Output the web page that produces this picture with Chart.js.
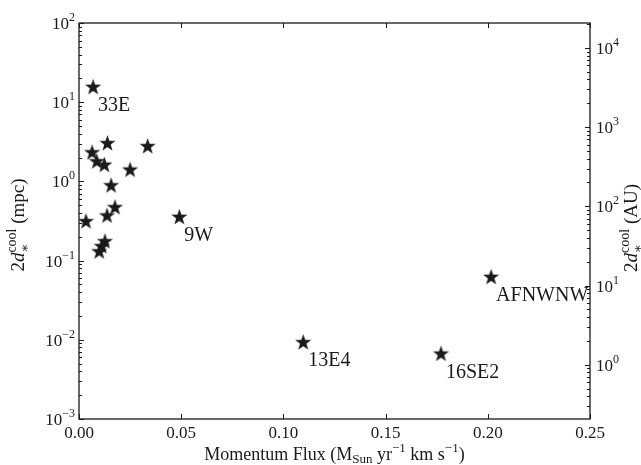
<!DOCTYPE html>
<html>
<head>
<meta charset="utf-8">
<script src="https://cdn.jsdelivr.net/npm/chart.js@4"></script>
<style>
  html, body { margin: 0; padding: 0; background: #fff; }
  #wrap { width: 641px; height: 465px; }
</style>
</head>
<body>
<div id="wrap"><canvas id="chart" width="641" height="465"></canvas></div>
<script>
// momentum flux (Msun/yr km/s) vs. 2 d_cool (mpc)
const momFlux = [0.0069, 0.0139, 0.0336, 0.0064, 0.0087, 0.0124, 0.0250, 0.0157, 0.0176,
                 0.0137, 0.0034, 0.0491, 0.0127, 0.0111, 0.0099, 0.1097, 0.1771, 0.2016];
const coolMpc = [15.4, 3.0, 2.75, 2.3, 1.77, 1.6, 1.39, 0.88, 0.466,
                 0.366, 0.31, 0.352, 0.173, 0.150, 0.129, 0.0092, 0.0066, 0.0615];
const srcNames = ['33E', '', '', '', '', '', '', '', '',
                  '', '', '9W', '', '', '', '13E4', '16SE2', 'AFNWNW'];

const xTicks = [0.00, 0.05, 0.10, 0.15, 0.20, 0.25];
const yExps = [-3, -2, -1, 0, 1, 2];       // mpc decades
const auExps = [0, 1, 2, 3, 4];            // AU decades
const MPC_TO_AU = 206.265;

const FONT = '"Liberation Serif", "DejaVu Serif", serif';
const INK = '#1a1a1a';

// filled five point star used as point style
function makeStar(r) {
  const c = document.createElement('canvas');
  const s = Math.ceil(r * 2 + 2);
  c.width = s; c.height = s;
  const g = c.getContext('2d');
  g.fillStyle = INK;
  g.beginPath();
  for (let i = 0; i < 10; i++) {
    const rad = i % 2 === 0 ? r : r * 0.4;
    const a = -Math.PI / 2 + i * Math.PI / 5;
    const px = s / 2 + rad * Math.cos(a), py = s / 2 + rad * Math.sin(a);
    if (i === 0) g.moveTo(px, py); else g.lineTo(px, py);
  }
  g.closePath();
  g.fill();
  return c;
}
const starImg = makeStar(8.5);

// text runs with sub/superscripts
function runsWidth(ctx, runs) {
  let w = 0, last = 0;
  runs.forEach(r => {
    ctx.font = (r.italic ? 'italic ' : '') + r.size + 'px ' + FONT;
    const rw = ctx.measureText(r.t).width;
    if (r.stack) { w += Math.max(0, rw - last); last = Math.max(rw, last); }
    else { w += rw; last = rw; }
  });
  return w;
}
function drawRuns(ctx, runs, x, y, align) {
  const total = runsWidth(ctx, runs);
  let cx = align === 'center' ? x - total / 2 : align === 'right' ? x - total : x;
  let start = cx, last = 0;
  ctx.textBaseline = 'alphabetic';
  ctx.textAlign = 'left';
  runs.forEach(r => {
    ctx.font = (r.italic ? 'italic ' : '') + r.size + 'px ' + FONT;
    const rw = ctx.measureText(r.t).width;
    if (r.stack) {
      ctx.fillText(r.t, start, y + (r.dy || 0));
      cx = start + Math.max(rw, last);
      last = Math.max(rw, last);
    } else {
      start = cx;
      ctx.fillText(r.t, cx, y + (r.dy || 0));
      cx += rw;
      last = rw;
    }
  });
}
function pow10(e) {
  return [{ t: '10', size: 17 }, { t: (e < 0 ? '\u2212' + (-e) : String(e)), size: 12, dy: -8 }];
}

const axesPlugin = {
  id: 'axesPlugin',
  afterDraw(chart) {
    const ctx = chart.ctx;
    const a = chart.chartArea;
    const sx = chart.scales.x, sy = chart.scales.y, sau = chart.scales.y2;
    ctx.save();
    ctx.strokeStyle = INK;
    ctx.fillStyle = INK;
    ctx.lineWidth = 1;

    // ticks, pointing inward
    ctx.beginPath();
    xTicks.forEach(v => {
      const px = Math.round(sx.getPixelForValue(v)) + 0.5;
      ctx.moveTo(px, a.bottom); ctx.lineTo(px, a.bottom - 5);
      ctx.moveTo(px, a.top); ctx.lineTo(px, a.top + 5);
    });
    for (let e = -3; e <= 2; e++) {
      for (let m = 1; m <= 9; m++) {
        const v = m * Math.pow(10, e);
        if (v > 100 * 1.0001) continue;
        const py = Math.round(sy.getPixelForValue(v)) + 0.5;
        ctx.moveTo(a.left, py); ctx.lineTo(a.left + (m === 1 ? 5 : 3), py);
      }
    }
    for (let e = -1; e <= 4; e++) {
      for (let m = 1; m <= 9; m++) {
        const v = m * Math.pow(10, e);
        if (v < sau.min || v > sau.max) continue;
        const py = Math.round(sau.getPixelForValue(v)) + 0.5;
        ctx.moveTo(a.right, py); ctx.lineTo(a.right - (m === 1 ? 5 : 3), py);
      }
    }
    ctx.stroke();

    // frame
    ctx.lineWidth = 1.3;
    ctx.strokeRect(a.left, a.top, a.right - a.left, a.bottom - a.top);

    // tick labels
    ctx.textAlign = 'center';
    ctx.textBaseline = 'alphabetic';
    ctx.font = '17px ' + FONT;
    xTicks.forEach(v => {
      ctx.fillText(v.toFixed(2), sx.getPixelForValue(v), a.bottom + 19);
    });
    yExps.forEach(e => {
      drawRuns(ctx, pow10(e), a.left - 4, sy.getPixelForValue(Math.pow(10, e)) + 6, 'right');
    });
    auExps.forEach(e => {
      drawRuns(ctx, pow10(e), a.right + 6, sau.getPixelForValue(Math.pow(10, e)) + 6, 'left');
    });

    // axis titles
    drawRuns(ctx, [
      { t: 'Momentum Flux (M', size: 18 }, { t: 'Sun', size: 13, dy: 3 },
      { t: ' yr', size: 18 }, { t: '\u22121', size: 13, dy: -8 },
      { t: ' km s', size: 18 }, { t: '\u22121', size: 13, dy: -8 }, { t: ')', size: 18 }
    ], (a.left + a.right) / 2, 460, 'center');

    const yTitle = unit => [
      { t: '2', size: 19 }, { t: 'd', size: 19, italic: true },
      { t: '\u2217', size: 13, dy: 5 }, { t: 'cool', size: 14, dy: -8, stack: true },
      { t: ' (' + unit + ')', size: 19 }
    ];
    ctx.save();
    ctx.translate(24, 225);
    ctx.rotate(-Math.PI / 2);
    drawRuns(ctx, yTitle('mpc'), 0, 0, 'center');
    ctx.restore();
    ctx.save();
    ctx.translate(637, 228);
    ctx.rotate(-Math.PI / 2);
    drawRuns(ctx, yTitle('AU'), 0, 0, 'center');
    ctx.restore();

    // source names
    ctx.font = '20px ' + FONT;
    ctx.textAlign = 'left';
    ctx.textBaseline = 'alphabetic';
    srcNames.forEach((n, i) => {
      if (!n) return;
      const px = sx.getPixelForValue(momFlux[i]);
      const py = sy.getPixelForValue(coolMpc[i]);
      ctx.fillText(n, px + 5, py + 23.5);
    });
    ctx.restore();
  }
};

new Chart(document.getElementById('chart'), {
  type: 'scatter',
  data: {
    datasets: [{
      data: momFlux.map((v, i) => ({ x: v, y: coolMpc[i] })),
      pointStyle: starImg,
      yAxisID: 'y'
    }]
  },
  options: {
    responsive: false,
    animation: false,
    layout: { padding: { top: 23, left: 0, right: 0, bottom: 0 } },
    plugins: { legend: { display: false }, tooltip: { enabled: false } },
    scales: {
      x: {
        type: 'linear', position: 'bottom', min: 0, max: 0.25,
        ticks: { display: false }, grid: { display: false }, border: { display: false },
        afterFit: s => { s.height = 46; }
      },
      y: {
        type: 'logarithmic', position: 'left', min: 1e-3, max: 1e2,
        ticks: { display: false }, grid: { display: false }, border: { display: false },
        afterFit: s => { s.width = 79; }
      },
      y2: {
        type: 'logarithmic', position: 'right', min: 1e-3 * MPC_TO_AU, max: 1e2 * MPC_TO_AU,
        ticks: { display: false }, grid: { display: false }, border: { display: false },
        afterFit: s => { s.width = 51; }
      }
    }
  },
  plugins: [axesPlugin]
});
</script>
</body>
</html>
